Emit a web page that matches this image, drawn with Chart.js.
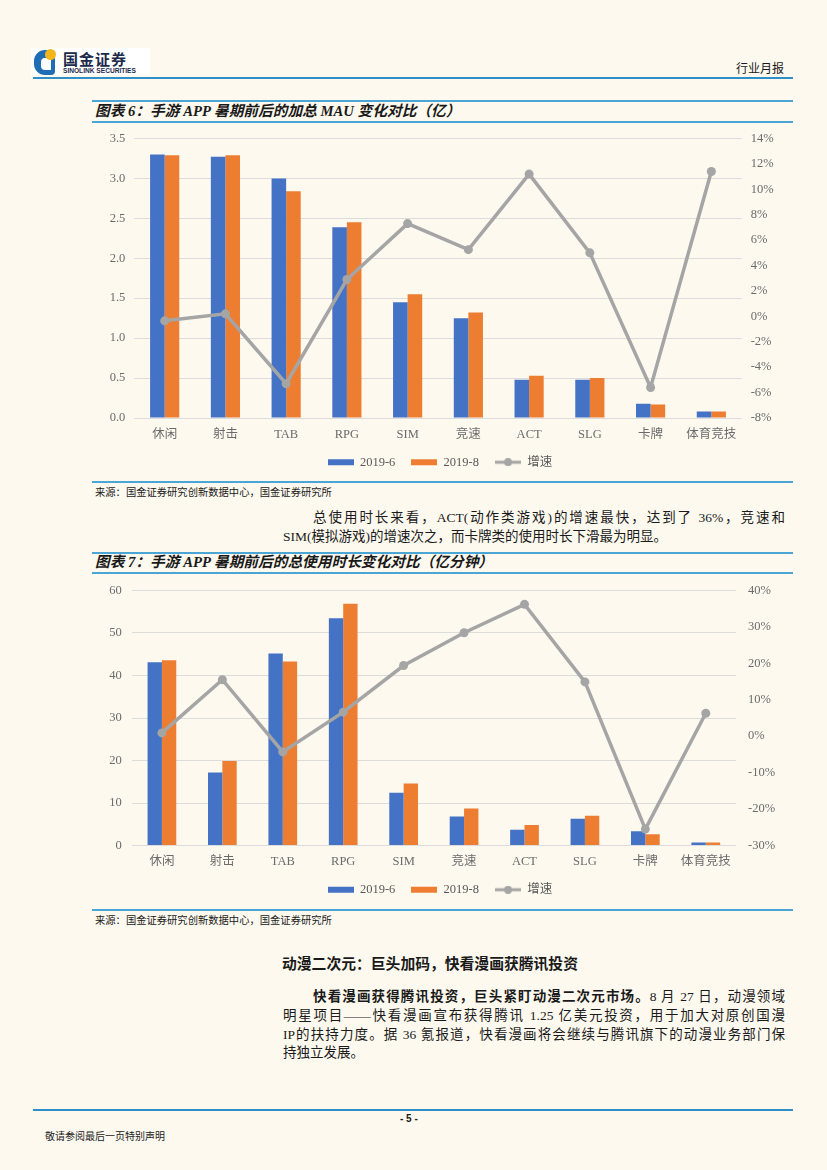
<!DOCTYPE html>
<html>
<head>
<meta charset="utf-8">
<script src="https://cdn.jsdelivr.net/npm/chart.js@4.4.0/dist/chart.umd.min.js"></script>
<style>
  html, body { margin: 0; padding: 0; }
  body { width: 827px; height: 1170px; background: #fdf9ef; position: relative; overflow: hidden;
         font-family: 'Liberation Serif', 'Noto Sans CJK SC', serif; color: #1a1a1a; }
  .abs { position: absolute; }
  .hline { position: absolute; height: 2px; background: #4ba6d6; }
  .title { position: absolute; left: 95px; font-size: 14.7px; font-weight: bold; font-style: italic; white-space: nowrap; line-height: 18px; }
  .src { position: absolute; left: 95px; font-size: 10.3px; white-space: nowrap; }
  .line { position: absolute; font-size: 13.5px; white-space: nowrap; line-height: 18px; }
  .just { text-align: justify; text-align-last: justify; white-space: normal; }
</style>
</head>
<body>
<!-- header -->
<div class="abs" style="left:31px;top:48px;width:119px;height:27px;background:#fff;"></div>
<div class="abs" style="left:34px;top:50px;width:21px;height:25px;border-radius:11px 4px 4px 11px;background:#1f6db5;"></div>
<div class="abs" style="left:41px;top:58px;width:10px;height:12px;background:#fff;border-radius:4px 0 0 4px;"></div>
<div class="abs" style="left:45px;top:49px;width:11px;height:11px;border-radius:50%;background:#f2b61c;"></div>
<div class="abs" style="left:63px;top:50px;font-size:15px;font-weight:bold;color:#1b2a4a;font-family:'Noto Sans CJK SC';line-height:17px;letter-spacing:1px;">国金证券</div>
<div class="abs" style="left:63px;top:67px;font-size:6.6px;font-weight:bold;color:#1b2a4a;font-family:'Liberation Sans';line-height:8px;">SINOLINK SECURITIES</div>
<div class="abs" style="left:736px;top:59px;font-size:12px;">行业月报</div>
<div class="hline" style="left:33px;top:77px;width:760px;background:#2f8fc9;"></div>

<!-- figure 6 -->
<div class="hline" style="left:92px;top:100px;width:701px;"></div>
<div class="title" style="top:102px;">图表 6：手游 APP 暑期前后的加总 MAU 变化对比（亿）</div>
<div class="hline" style="left:92px;top:121px;width:701px;"></div>
<div class="abs" style="left:80px;top:121.5px;width:720px;height:356.5px;"><canvas id="c1"></canvas></div>
<div class="hline" style="left:92px;top:481px;width:701px;"></div>
<div class="src" style="top:484px;">来源：国金证券研究创新数据中心，国金证券研究所</div>

<div class="line just" style="left:313px;top:509px;width:472px;">总使用时长来看，ACT(动作类游戏)的增速最快，达到了 36%，竞速和</div>
<div class="line" style="left:283px;top:528px;">SIM(模拟游戏)的增速次之，而卡牌类的使用时长下滑最为明显。</div>

<!-- figure 7 -->
<div class="hline" style="left:92px;top:552px;width:701px;"></div>
<div class="title" style="top:553px;">图表 7：手游 APP 暑期前后的总使用时长变化对比（亿分钟）</div>
<div class="hline" style="left:92px;top:572px;width:701px;"></div>
<div class="abs" style="left:80px;top:571px;width:720px;height:335px;"><canvas id="c2"></canvas></div>
<div class="hline" style="left:92px;top:909px;width:701px;"></div>
<div class="src" style="top:912px;">来源：国金证券研究创新数据中心，国金证券研究所</div>

<div class="line" style="left:282px;top:955px;font-weight:bold;font-size:14.8px;">动漫二次元：巨头加码，快看漫画获腾讯投资</div>
<div class="line just" style="left:313px;top:988px;width:472px;"><b>快看漫画获得腾讯投资，巨头紧盯动漫二次元市场。</b>8 月 27 日，动漫领域</div>
<div class="line just" style="left:283px;top:1007px;width:502px;">明星项目——快看漫画宣布获得腾讯 1.25 亿美元投资，用于加大对原创国漫</div>
<div class="line just" style="left:283px;top:1026px;width:502px;">IP的扶持力度。据 36 氪报道，快看漫画将会继续与腾讯旗下的动漫业务部门保</div>
<div class="line" style="left:283px;top:1044px;">持独立发展。</div>

<!-- footer -->
<div class="hline" style="left:33px;top:1109px;width:760px;background:#2f8fc9;"></div>
<div class="abs" style="left:400px;top:1113px;font-size:10px;font-weight:bold;font-family:'Liberation Sans';">- 5 -</div>
<div class="abs" style="left:45px;top:1128px;font-size:10px;">敬请参阅最后一页特别声明</div>

<script>
const categories = ['休闲', '射击', 'TAB', 'RPG', 'SIM', '竞速', 'ACT', 'SLG', '卡牌', '体育竞技'];
const seriesNames = ['2019-6', '2019-8', '增速'];

// 图表6: MAU (亿)
const mauJun = [3.30, 3.27, 3.00, 2.39, 1.45, 1.25, 0.48, 0.48, 0.18, 0.08];
const mauAug = [3.29, 3.29, 2.84, 2.45, 1.55, 1.32, 0.53, 0.50, 0.17, 0.08];
const mauGrowth = [-0.35, 0.2, -5.3, 2.9, 7.3, 5.25, 11.2, 5.0, -5.6, 11.4];

// 图表7: 总使用时长 (亿分钟)
const timeJun = [43.1, 17.2, 45.2, 53.5, 12.4, 6.8, 3.7, 6.3, 3.35, 0.7];
const timeAug = [43.6, 19.9, 43.3, 56.9, 14.6, 8.7, 4.8, 7.0, 2.65, 0.7];
const timeGrowth = [0.9, 15.5, -4.3, 6.6, 19.4, 28.4, 36.2, 14.9, -25.5, 6.3];

const BLUE = '#4472c4', ORANGE = '#ed7d31', GRAY = '#a5a5a5';
const FONT = "'Liberation Serif', 'Noto Sans CJK SC', serif";
const TICK = '#6b6b6b';

const makeIcon = (kind, color) => {
    const c = document.createElement('canvas');
    c.width = 26; c.height = 8;
    const g = c.getContext('2d');
    if (kind === 'bar') {
        g.fillStyle = color;
        g.fillRect(0, 1, 26, 6);
    } else {
        g.strokeStyle = color; g.lineWidth = 3;
        g.beginPath(); g.moveTo(0, 4); g.lineTo(26, 4); g.stroke();
        g.fillStyle = color;
        g.beginPath(); g.arc(13, 4, 4, 0, Math.PI * 2); g.fill();
    }
    return c;
};
const icons = [makeIcon('bar', BLUE), makeIcon('bar', ORANGE), makeIcon('line', GRAY)];

const buildChart = (id, jun, aug, growth, left) => {
    new Chart(document.getElementById(id), {
        type: 'bar',
        data: {
            labels: categories,
            datasets: [
                { label: seriesNames[0], data: jun, backgroundColor: BLUE, yAxisID: 'y', order: 1,
                  categoryPercentage: left.cat, barPercentage: 1 },
                { label: seriesNames[1], data: aug, backgroundColor: ORANGE, yAxisID: 'y', order: 1,
                  categoryPercentage: left.cat, barPercentage: 1 },
                { label: seriesNames[2], data: growth, type: 'line', yAxisID: 'y1', order: 0,
                  borderColor: GRAY, backgroundColor: GRAY, borderWidth: 3.5,
                  pointRadius: 4.5, pointBackgroundColor: GRAY, pointBorderWidth: 0, tension: 0 }
            ]
        },
        options: {
            responsive: true,
            maintainAspectRatio: false,
            animation: false,
            layout: { autoPadding: false, padding: { top: left.padTop, left: 0, right: 0, bottom: 0 } },
            plugins: {
                tooltip: { enabled: false },
                legend: {
                    position: 'bottom',
                    labels: {
                        font: { family: FONT, size: 12.5 },
                        color: '#595959',
                        padding: 16,
                        usePointStyle: true,
                        pointStyleWidth: 26,
                        boxHeight: 8,
                        generateLabels: chart => chart.data.datasets.map((d, i) => ({
                            text: d.label, pointStyle: icons[i], datasetIndex: i,
                            fillStyle: 'transparent', strokeStyle: 'transparent', lineWidth: 0, fontColor: '#595959'
                        }))
                    }
                }
            },
            scales: {
                x: {
                    grid: { display: false, drawTicks: false },
                    border: { display: false },
                    ticks: { font: { family: FONT, size: 12.5 }, color: TICK, padding: 9 },
                    afterFit: s => { s.height = 22; }
                },
                y: {
                    position: 'left',
                    min: left.min, max: left.max,
                    ticks: { stepSize: left.step, font: { family: FONT, size: 12.5 }, color: TICK, padding: left.padL,
                             callback: v => left.fmt(v) },
                    grid: { color: '#dcdcdc', lineWidth: 1, drawTicks: false },
                    border: { display: false },
                    afterFit: s => { s.width = left.wL; }
                },
                y1: {
                    position: 'right',
                    min: left.rmin, max: left.rmax,
                    ticks: { stepSize: left.rstep, font: { family: FONT, size: 12.5 }, color: TICK, padding: left.padR,
                             callback: v => v + '%' },
                    grid: { display: false, drawTicks: false },
                    border: { display: false },
                    afterFit: s => { s.width = left.wR; }
                }
            }
        }
    });
};

buildChart('c1', mauJun, mauAug, mauGrowth, {
    cat: 0.48, padTop: 6, min: 0, max: 3.5, step: 0.5, fmt: v => v.toFixed(1),
    rmin: -8, rmax: 14, rstep: 2, wL: 54.3, wR: 58.3, padL: 9, padR: 9
});
buildChart('c2', timeJun, timeAug, timeGrowth, {
    cat: 0.475, padTop: 7, min: 0, max: 60, step: 10, fmt: v => String(v),
    rmin: -30, rmax: 40, rstep: 10, wL: 51.7, wR: 64, padL: 10, padR: 12
});
</script>
</body>
</html>
